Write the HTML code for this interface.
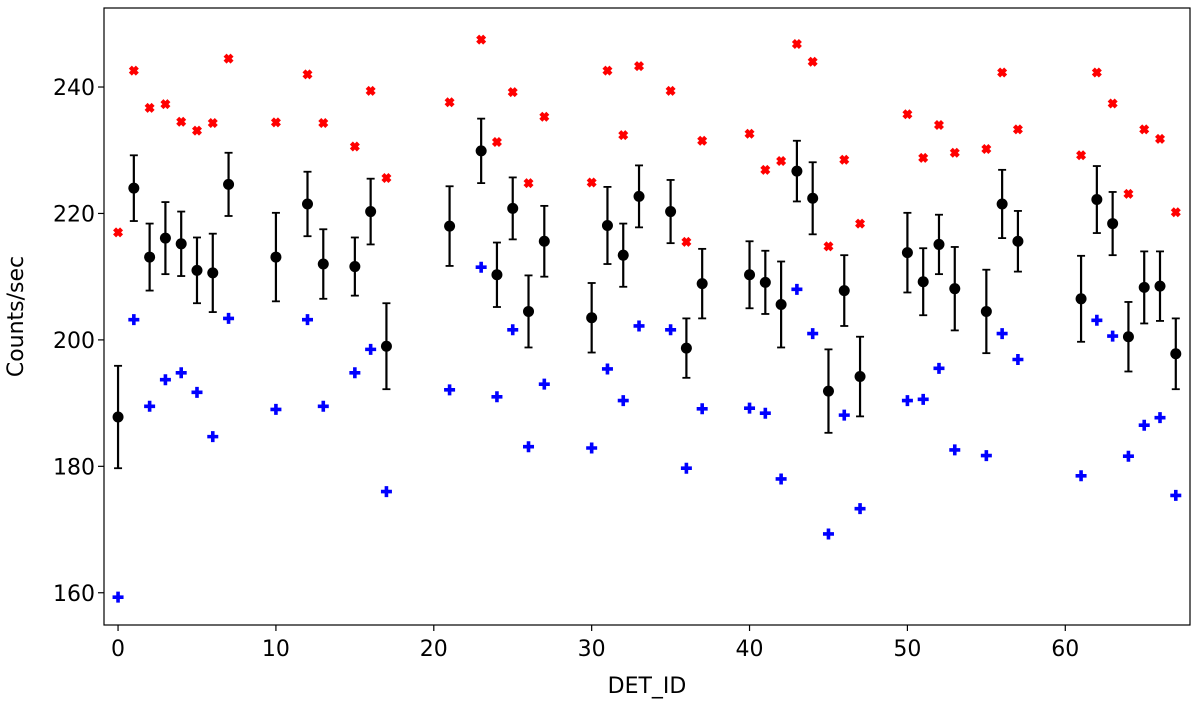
<!DOCTYPE html>
<html><head><meta charset="utf-8"><style>
body{margin:0;background:#fff;}
svg{display:block;font-family:"DejaVu Sans","Liberation Sans",sans-serif;}
</style></head><body>
<svg id="chart" width="1200" height="704"></svg>
<script>
const detIds=[0,1,2,3,4,5,6,7,10,12,13,15,16,17,21,23,24,25,26,27,30,31,32,33,35,36,37,40,41,42,43,44,45,46,47,50,51,52,53,55,56,57,61,62,63,64,65,66,67];
const meanVals=[187.8,224.0,213.1,216.1,215.2,211.0,210.6,224.6,213.1,221.5,212.0,211.6,220.3,199.0,218.0,229.9,210.3,220.8,204.5,215.6,203.5,218.1,213.4,222.7,220.3,198.7,208.9,210.3,209.1,205.6,226.7,222.4,191.9,207.8,194.2,213.8,209.2,215.1,208.1,204.5,221.5,215.6,206.5,222.2,218.4,200.5,208.3,208.5,197.8];
const errVals=[8.1,5.2,5.3,5.7,5.1,5.2,6.2,5.0,7.0,5.1,5.5,4.6,5.2,6.8,6.3,5.1,5.1,4.9,5.7,5.6,5.5,6.1,5.0,4.9,5.0,4.7,5.5,5.3,5.0,6.8,4.8,5.7,6.6,5.6,6.3,6.3,5.3,4.7,6.6,6.6,5.4,4.8,6.8,5.3,5.0,5.5,5.7,5.5,5.6];
const redVals=[217.0,242.6,236.7,237.3,234.5,233.1,234.3,244.5,234.4,242.0,234.3,230.6,239.4,225.6,237.6,247.5,231.3,239.2,224.8,235.3,224.9,242.6,232.4,243.3,239.4,215.5,231.5,232.6,226.9,228.3,246.8,244.0,214.8,228.5,218.4,235.7,228.8,234.0,229.6,230.2,242.3,233.3,229.2,242.3,237.4,223.1,233.3,231.8,220.2];
const blueVals=[159.3,203.2,189.5,193.7,194.8,191.7,184.7,203.4,189.0,203.2,189.5,194.8,198.5,176.0,192.1,211.5,191.0,201.6,183.1,193.0,182.9,195.4,190.4,202.2,201.6,179.7,189.1,189.2,188.4,178.0,208.0,201.0,169.3,188.1,173.3,190.4,190.6,195.5,182.6,181.7,201.0,196.9,178.5,203.1,200.6,181.6,186.5,187.7,175.4];
const xTicks=[0,10,20,30,40,50,60];
const yTicks=[160,180,200,220,240];

const L=104,R=1190,T=8,B=625;
const xMin=-0.89,xMax=67.9,yMin=154.9,yMax=252.5;
const sx=v=>L+(v-xMin)/(xMax-xMin)*(R-L);
const sy=v=>B-(v-yMin)/(yMax-yMin)*(B-T);
const NS="http://www.w3.org/2000/svg";
const svg=document.getElementById('chart');
function mk(tag,attrs,parent){const e=document.createElementNS(NS,tag);for(const k in attrs)e.setAttribute(k,attrs[k]);(parent||svg).appendChild(e);return e;}

const axes=mk('g',{});


xTicks.forEach(t=>{
  const g=mk('g',{},axes);
  
  
  mk('line',{x1:sx(t),x2:sx(t),y1:B,y2:B+6,stroke:'#000','stroke-width':1.2},g);
  const tx=mk('text',{x:sx(t),y:B+31,'text-anchor':'middle','font-size':22},g);tx.textContent=t;
});
yTicks.forEach(t=>{
  const g=mk('g',{},axes);
  
  
  mk('line',{x1:L-6,x2:L,y1:sy(t),y2:sy(t),stroke:'#000','stroke-width':1.2},g);
  const tx=mk('text',{x:L-9,y:sy(t)+8,'text-anchor':'end','font-size':22},g);tx.textContent=t;
});
const xl=mk('text',{x:(L+R)/2,y:693,'text-anchor':'middle','font-size':22});
xl.textContent='DET_ID';


const yl=mk('text',{x:0,y:0,'text-anchor':'middle','font-size':22,transform:`translate(30,${(T+B)/2}) rotate(-90)`});
yl.textContent='Counts/sec';



const red=mk('g',{});


const blue=mk('g',{});


const black=mk('g',{});



const xPath="M-2,-5 L0,-3 L2,-5 L5,-2 L3,0 L5,2 L2,5 L0,3 L-2,5 L-5,2 L-3,0 L-5,-2 Z";
const pPath="M-1.8,-5.5 H1.8 V-1.8 H5.5 V1.8 H1.8 V5.5 H-1.8 V1.8 H-5.5 V-1.8 H-1.8 Z";
detIds.forEach((id,i)=>{
  const x=sx(id);
  const r=mk('path',{d:xPath,fill:'#ff0000',transform:`translate(${x},${sy(redVals[i])})`},red);
  
  
  const b=mk('path',{d:pPath,fill:'#0000ff',transform:`translate(${x},${sy(blueVals[i])})`},blue);
  
  
  const g=mk('g',{},black);
  
  
  const y1=sy(meanVals[i]+errVals[i]),y2=sy(meanVals[i]-errVals[i]);
  mk('line',{x1:x,x2:x,y1:y1,y2:y2,stroke:'#000','stroke-width':2.2},g);
  mk('line',{x1:x-4,x2:x+4,y1:y1,y2:y1,stroke:'#000','stroke-width':1.8},g);
  mk('line',{x1:x-4,x2:x+4,y1:y2,y2:y2,stroke:'#000','stroke-width':1.8},g);
  mk('circle',{cx:x,cy:sy(meanVals[i]),r:5.5,fill:'#000'},g);
});
const frame=mk('rect',{x:L,y:T,width:R-L,height:B-T,fill:'none',stroke:'#000','stroke-width':1.2});


yl.setAttribute('transform',`translate(23,${(T+B)/2}) rotate(-90)`);
</script>
</body></html>
